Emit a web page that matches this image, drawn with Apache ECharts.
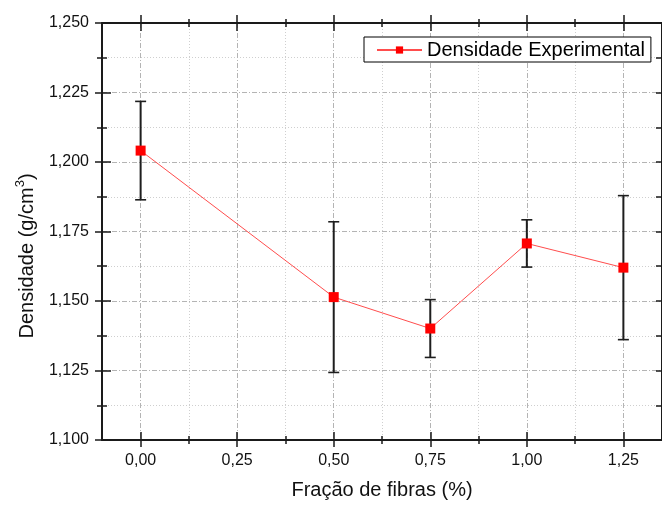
<!DOCTYPE html>
<html>
<head>
<meta charset="utf-8">
<script src="https://cdn.jsdelivr.net/npm/echarts@6/dist/echarts.min.js"></script>
<style>
  html, body { margin: 0; padding: 0; background: #fff; }
  #chart { width: 662px; height: 505px; }
</style>
</head>
<body>
<div id="chart"></div>
<script>
// Fibre fraction (%) and measured density (g/cm³) with standard deviation
var fracao = [0.00, 0.50, 0.75, 1.00, 1.25];
var densidade = [1.2041, 1.1514, 1.1401, 1.1707, 1.1620];
var desvio = [0.0177, 0.0271, 0.0104, 0.0085, 0.0259];

// Axis tick positions
var xMajor = [0, 0.25, 0.5, 0.75, 1.0, 1.25];
var xMinor = [0.125, 0.375, 0.625, 0.875, 1.125];

var FONT = 'Liberation Sans, Arial, sans-serif';
var AXIS_COLOR = '#1a1a1a';
var X_MIN = -0.1, X_MAX = 1.35;
var Y_MIN = 1.100, Y_MAX = 1.250, Y_STEP = 0.025;

var pontos = fracao.map(function (x, i) { return [x, densidade[i]]; });
var barras = fracao.map(function (x, i) { return [x, densidade[i], desvio[i]]; });

function comma(v, d) { return v.toFixed(d).replace('.', ','); }

// one x axis layer: custom tick positions, ticks pointing in or out
function xLayer(pos, values, inside, len, extra) {
  var a = {
    type: 'value', position: pos, min: X_MIN, max: X_MAX,
    axisLine: { show: false, onZero: false },
    axisTick: { show: true, inside: inside, length: len, customValues: values,
                lineStyle: { color: AXIS_COLOR, width: 1.5 } },
    axisLabel: { show: false, customValues: values },
    splitLine: { show: false }
  };
  return Object.assign(a, extra || {});
}

function yLayer(pos, inside, len, minorLen, extra) {
  var a = {
    type: 'value', position: pos, min: Y_MIN, max: Y_MAX, interval: Y_STEP,
    axisLine: { show: false, onZero: false },
    axisTick: { show: true, inside: inside, length: len,
                lineStyle: { color: AXIS_COLOR, width: 1.5 } },
    minorTick: { show: true, splitNumber: 2, length: minorLen,
                 lineStyle: { color: AXIS_COLOR, width: 1.5 } },
    axisLabel: { show: false },
    splitLine: { show: false }
  };
  return Object.assign(a, extra || {});
}

var chart = echarts.init(document.getElementById('chart'), null, { renderer: 'canvas' });

chart.setOption({
  animation: false,
  backgroundColor: '#ffffff',
  textStyle: { fontFamily: FONT },
  grid: { left: 102, top: 23, width: 560, height: 417, containLabel: false },
  legend: {
    left: 364, top: 37,
    orient: 'horizontal',
    backgroundColor: '#ffffff',
    borderColor: '#000000', borderWidth: 1, borderRadius: 0,
    padding: [3, 6, 2, 12],
    itemWidth: 45, itemHeight: 9,
    textStyle: { fontFamily: FONT, fontSize: 20, color: '#000' },
    data: ['Densidade Experimental']
  },
  xAxis: [
    xLayer('bottom', xMajor, false, 7, {
      axisLine: { show: true, onZero: false, lineStyle: { color: AXIS_COLOR, width: 2 } },
      axisLabel: {
        show: true, customValues: xMajor, margin: 13,
        fontFamily: FONT, fontSize: 16, color: '#111',
        formatter: function (v) { return comma(v, 2); }
      },
      splitLine: { show: true, lineStyle: { color: '#b4b4b4', width: 1, type: [5, 2, 1, 2] } },
      name: 'Fração de fibras (%)', nameLocation: 'middle', nameGap: 40,
      nameTextStyle: { fontFamily: FONT, fontSize: 20, color: '#111' }
    }),
    xLayer('bottom', xMajor, true, 8),
    xLayer('bottom', xMinor, false, 4, {
      splitLine: { show: true, lineStyle: { color: '#cfcfcf', width: 1, type: [1, 2] } }
    }),
    xLayer('bottom', xMinor, true, 4),
    xLayer('top', xMajor, false, 8, {
      axisLine: { show: true, onZero: false, lineStyle: { color: AXIS_COLOR, width: 2 } }
    }),
    xLayer('top', xMajor, true, 8),
    xLayer('top', xMinor, false, 4),
    xLayer('top', xMinor, true, 4)
  ],
  yAxis: [
    yLayer('left', false, 7, 5, {
      axisLine: { show: true, onZero: false, lineStyle: { color: AXIS_COLOR, width: 2 } },
      axisLabel: {
        show: true, margin: 13, fontFamily: FONT, fontSize: 16, color: '#111',
        formatter: function (v) { return comma(v, 3); }
      },
      splitLine: { show: true, lineStyle: { color: '#b4b4b4', width: 1, type: [5, 2, 1, 2] } },
      minorSplitLine: { show: true, lineStyle: { color: '#cfcfcf', width: 1, type: [1, 2] } }
    }),
    yLayer('left', true, 9, 5),
    yLayer('right', true, 6, 6, {
      axisLine: { show: true, onZero: false, lineStyle: { color: AXIS_COLOR, width: 2 } }
    })
  ],
  graphic: [{
    type: 'text',
    x: 27, y: 256,
    rotation: Math.PI / 2,
    style: {
      text: '{a|Densidade (g/cm}{s|3}{a|)}',
      align: 'center', verticalAlign: 'middle',
      fill: '#111',
      rich: {
        a: { fontFamily: FONT, fontSize: 20, fill: '#111', lineHeight: 26 },
        s: { fontFamily: FONT, fontSize: 13, fill: '#111', verticalAlign: 'top', lineHeight: 14 }
      }
    }
  }],
  series: [
    {
      name: 'Barras de erro',
      type: 'custom',
      xAxisIndex: 0, yAxisIndex: 0,
      data: barras,
      encode: { x: 0, y: 1 },
      z: 2,
      renderItem: function (params, api) {
        var x = api.value(0), y = api.value(1), e = api.value(2);
        var top = api.coord([x, y + e]);
        var bot = api.coord([x, y - e]);
        var cap = 5.5;
        var st = { stroke: '#1e1e1e', lineWidth: 2 };
        var sc = { stroke: '#1e1e1e', lineWidth: 1.6 };
        return {
          type: 'group',
          children: [
            { type: 'line', shape: { x1: top[0], y1: top[1], x2: bot[0], y2: bot[1] }, style: st },
            { type: 'line', shape: { x1: top[0] - cap, y1: top[1], x2: top[0] + cap, y2: top[1] }, style: sc },
            { type: 'line', shape: { x1: bot[0] - cap, y1: bot[1], x2: bot[0] + cap, y2: bot[1] }, style: sc }
          ]
        };
      }
    },
    {
      name: 'Densidade Experimental',
      type: 'line',
      xAxisIndex: 0, yAxisIndex: 0,
      data: pontos,
      z: 3,
      symbol: 'rect',
      symbolSize: 10,
      showAllSymbol: true,
      lineStyle: { color: '#ff4d4d', width: 1 },
      itemStyle: { color: '#ff0000', borderWidth: 0 }
    }
  ]
});
</script>
</body>
</html>
